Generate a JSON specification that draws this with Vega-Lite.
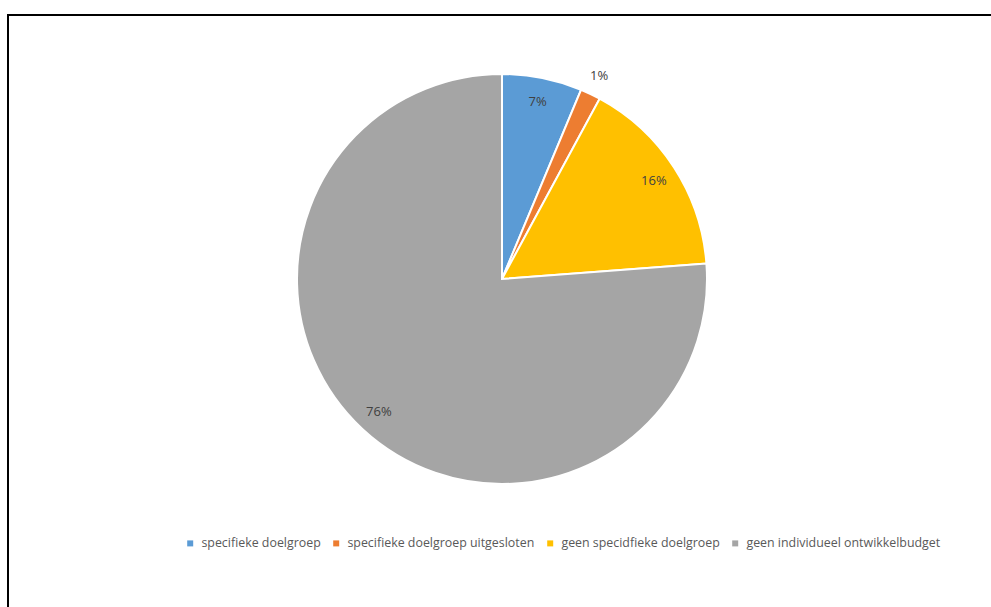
{
  "$schema": "https://vega.github.io/schema/vega-lite/v6.json",
  "width": 988,
  "height": 620,
  "autosize": {"type": "none"},
  "padding": {"left": 8, "top": 15, "right": 0, "bottom": 0},
  "background": "white",
  "config": {
    "view": {"stroke": null},
    "font": "Open Sans"
  },
  "data": {
    "values": [
      {"categorie": "specifieke doelgroep", "aandeel": 6.3, "label": "7%", "rang": 1},
      {"categorie": "specifieke doelgroep uitgesloten", "aandeel": 1.6, "label": "1%", "rang": 2},
      {"categorie": "geen specidfieke doelgroep", "aandeel": 15.9, "label": "16%", "rang": 3},
      {"categorie": "geen individueel ontwikkelbudget", "aandeel": 76.2, "label": "76%", "rang": 4}
    ]
  },
  "layer": [
    {
      "data": {"values": [{"kader": "rand"}]},
      "mark": {"type": "rect", "fill": "white", "fillOpacity": 0, "stroke": "black", "strokeWidth": 2},
      "encoding": {}
    },
    {
      "mark": {"type": "arc", "outerRadius": 205, "stroke": "white", "strokeWidth": 2, "yOffset": -46},
      "encoding": {
        "theta": {"field": "aandeel", "type": "quantitative", "stack": true},
        "order": {"field": "rang", "type": "quantitative"},
        "color": {
          "field": "categorie",
          "type": "nominal",
          "scale": {
            "domain": ["specifieke doelgroep", "specifieke doelgroep uitgesloten", "geen specidfieke doelgroep", "geen individueel ontwikkelbudget"],
            "range": ["#5B9BD5", "#ED7D31", "#FFC000", "#A5A5A5"]
          },
          "legend": {
            "title": null,
            "orient": "none",
            "direction": "horizontal",
            "legendX": 176,
            "legendY": 522,
            "symbolType": "square",
            "symbolSize": 36,
            "symbolStrokeWidth": 0,
            "labelFontSize": 12.4,
            "labelColor": "#595959",
            "labelFont": "Open Sans",
            "columnPadding": 9,
            "labelOffset": 5,
            "labelLimit": 400
          }
        }
      }
    },
    {
      "mark": {"type": "text", "radius": 181, "yOffset": -46, "fontSize": 13, "fill": "#404040", "font": "Open Sans"},
      "encoding": {
        "theta": {"field": "aandeel", "type": "quantitative", "stack": true},
        "order": {"field": "rang", "type": "quantitative"},
        "text": {"condition": {"test": "datum.rang == 2", "value": ""}, "field": "label"}
      }
    },
    {
      "mark": {"type": "text", "radius": 225, "yOffset": -46, "fontSize": 13, "fill": "#404040", "font": "Open Sans"},
      "encoding": {
        "theta": {"field": "aandeel", "type": "quantitative", "stack": true},
        "order": {"field": "rang", "type": "quantitative"},
        "text": {"condition": {"test": "datum.rang != 2", "value": ""}, "field": "label"}
      }
    }
  ]
}
